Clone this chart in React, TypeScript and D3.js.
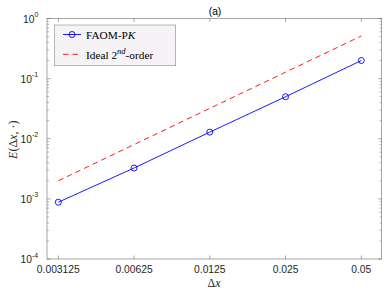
import React from "react";
import * as d3 from "d3";

const dxValues = [0.003125, 0.00625, 0.0125, 0.025, 0.05];
const xTickLabels = ["0.003125", "0.00625", "0.0125", "0.025", "0.05"];
const faomErrors = [0.00088, 0.00326, 0.0129, 0.05, 0.2];
const idealErrors = [0.002, 0.008, 0.032, 0.128, 0.512];
const yTickExps = [0, -1, -2, -3, -4];

const W = 390, H = 294;
const L = 47, R = 381.7, T = 18.5, B = 259;

export default function App() {
  const step = 75.75;
  const x0 = 0.003125 * Math.pow(2, -(58.3 - L) / step);
  const x1 = 0.05 * Math.pow(2, (R - 361.3) / step);
  const x = d3.scaleLog().domain([x0, x1]).range([L, R]);
  const y = d3.scaleLog().domain([1e-4, 1]).range([B, T]);
  const line = d3.line<number>().x((_, i) => x(dxValues[i])).y((v) => y(v));
  const minor: number[] = [];
  for (let e = -4; e < 0; e++) for (let k = 2; k <= 9; k++) minor.push(k * Math.pow(10, e));
  const axisColor = "#6b6b6b";
  const font = "Liberation Sans, Arial, sans-serif";
  const serif = "Liberation Serif, Times New Roman, serif";
  return (
    <svg width={W} height={H} style={{ position: "absolute", left: 0, top: 0, background: "#fff" }}>
      <rect x={0} y={0} width={W} height={H} fill="#fff" />
      {dxValues.map((d, i) => (
        <g key={"xt" + i}>
          <line x1={x(d)} x2={x(d)} y1={B} y2={B - 3.5} stroke={axisColor} strokeWidth={0.6} />
          <line x1={x(d)} x2={x(d)} y1={T} y2={T + 3.5} stroke={axisColor} strokeWidth={0.6} />
          <text x={x(d)} y={B + 14} textAnchor="middle" fontFamily={font} fontSize={10.3} fill="#262626">
            {xTickLabels[i]}
          </text>
        </g>
      ))}
      {yTickExps.map((e) => {
        const v = Math.pow(10, e);
        return (
          <g key={"yt" + e}>
            <line x1={L} x2={L + 3.5} y1={y(v)} y2={y(v)} stroke={axisColor} strokeWidth={0.6} />
            <line x1={R} x2={R - 3.5} y1={y(v)} y2={y(v)} stroke={axisColor} strokeWidth={0.6} />
            <text x={e < 0 ? 32 : 34.5} y={y(v) + 4} textAnchor="end" fontFamily={font} fontSize={10.3} fill="#262626">
              10
            </text>
            <text x={e < 0 ? 32 : 34.5} y={y(v) - 1.5} textAnchor="start" fontFamily={font} fontSize={7} fill="#262626">
              {e === 0 ? "0" : "-" + Math.abs(e)}
            </text>
          </g>
        );
      })}
      {minor.map((v, i) => (
        <g key={"mn" + i}>
          <line x1={L} x2={L + 2} y1={y(v)} y2={y(v)} stroke={axisColor} strokeWidth={0.5} />
          <line x1={R} x2={R - 2} y1={y(v)} y2={y(v)} stroke={axisColor} strokeWidth={0.5} />
        </g>
      ))}
      <rect x={L} y={T} width={R - L} height={B - T} fill="none" stroke={axisColor} strokeWidth={0.6} />
      <path d={line(idealErrors) || ""} fill="none" stroke="#ff0000" strokeWidth={0.9} strokeDasharray="5.5,4" />
      <path d={line(faomErrors) || ""} fill="none" stroke="#0000ff" strokeWidth={0.9} />
      {faomErrors.map((v, i) => (
        <circle key={"c" + i} cx={x(dxValues[i])} cy={y(v)} r={3} fill="none" stroke="#0000ff" strokeWidth={0.9} />
      ))}
      <rect x={54.3} y={25} width={121.4} height={40.7} fill="#f5f3f5" stroke="#8a8a8a" strokeWidth={0.6} />
      <line x1={63} x2={81} y1={34.5} y2={34.5} stroke="#0000ff" strokeWidth={0.9} />
      <circle cx={72} cy={34.5} r={3} fill="none" stroke="#0000ff" strokeWidth={0.9} />
      <text x={86} y={38.8} fontFamily={serif} fontSize={11.3} fill="#000">
        FAOM-P<tspan fontStyle="italic">K</tspan>
      </text>
      <line x1={63} x2={81} y1={54.3} y2={54.3} stroke="#ff0000" strokeWidth={0.9} strokeDasharray="5.5,4" />
      <text x={86} y={58.5} fontFamily={serif} fontSize={11.3} fill="#000">
        Ideal 2<tspan fontSize={8.5} fontStyle="italic" dy={-4.5}>nd</tspan>
        <tspan dy={4.5}>-order</tspan>
      </text>
      <text x={215} y={15} textAnchor="middle" fontFamily={font} fontSize={10.3} fill="#000">
        (a)
      </text>
      <text x={214} y={287} textAnchor="middle" fontFamily={serif} fontSize={12} fill="#262626">
        Δ<tspan fontStyle="italic">x</tspan>
      </text>
      <text
        transform={`translate(17,${(T + B) / 2 + 1}) rotate(-90)`}
        textAnchor="middle"
        fontFamily={serif}
        fontSize={12}
        fill="#262626"
      >
        <tspan fontStyle="italic">E</tspan>(Δ<tspan fontStyle="italic">x</tspan>, ·)
      </text>
    </svg>
  );
}
